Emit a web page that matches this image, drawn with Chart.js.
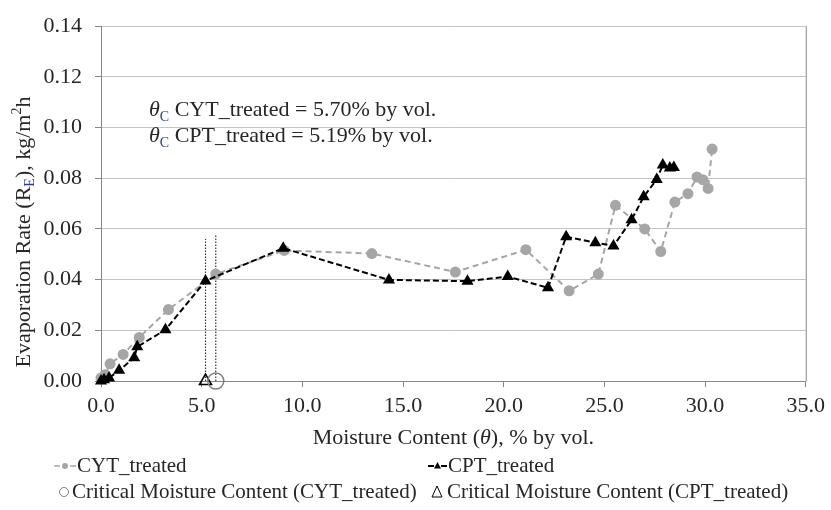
<!DOCTYPE html>
<html>
<head>
<meta charset="utf-8">
<script src="https://cdn.jsdelivr.net/npm/chart.js@4.4.1/dist/chart.umd.min.js"></script>
<style>
  body { margin: 0; background: #fff; }
  #wrap { width: 831px; height: 510px; }
</style>
</head>
<body>
<div id="wrap"><canvas id="rateChart" width="831" height="510"></canvas></div>
<script>
// moisture content (% by vol.) and evaporation rate (kg/m2h)
const cytMoisture = [0.0, 0.2, 0.45, 1.1, 1.9, 3.35, 5.7, 9.1, 13.45, 17.6, 21.1, 23.25, 24.7, 25.55, 27.0, 27.8, 28.5, 29.15, 29.6, 29.9, 30.15, 30.35];
const cytRate = [0.0012, 0.0025, 0.0068, 0.0105, 0.0172, 0.0282, 0.0422, 0.0515, 0.0503, 0.0430, 0.0518, 0.0356, 0.0422, 0.0693, 0.0600, 0.0511, 0.0706, 0.0739, 0.0805, 0.0794, 0.0760, 0.0915];

const cptMoisture = [0.0, 0.15, 0.4, 0.9, 1.65, 1.8, 3.2, 5.19, 9.05, 14.3, 18.2, 20.2, 22.2, 23.1, 24.55, 25.45, 26.35, 26.95, 27.6, 27.9, 28.25, 28.45];
const cptRate = [0.0, 0.0005, 0.0012, 0.0042, 0.0092, 0.0135, 0.0202, 0.0395, 0.0524, 0.0399, 0.0394, 0.0412, 0.0368, 0.0569, 0.0546, 0.0533, 0.0636, 0.0727, 0.0795, 0.0852, 0.0840, 0.0842];

// critical moisture content and the top of the dotted marker lines
const criticalCyt = 5.70;
const criticalCpt = 5.19;
const criticalCytTop = 0.0577;
const criticalCptTop = 0.0560;

const xTicks = [0, 5, 10, 15, 20, 25, 30, 35];
const yTicks = [0, 0.02, 0.04, 0.06, 0.08, 0.10, 0.12, 0.14];

const FONT = "'Liberation Serif', 'Times New Roman', serif";
const TEXT = "#262626";

function pts(xs, ys) {
  return xs.map((x, i) => ({ x: x, y: ys[i] }));
}

// draws a row of text pieces, each with its own style / offset
function drawPieces(ctx, x, y, pieces) {
  let cx = x;
  pieces.forEach(p => {
    ctx.font = (p.italic ? "italic " : "") + p.size + "px " + FONT;
    ctx.fillStyle = p.color || TEXT;
    ctx.fillText(p.t, cx, y + (p.dy || 0));
    cx += ctx.measureText(p.t).width;
  });
  return cx - x;
}
function piecesWidth(ctx, pieces) {
  let w = 0;
  pieces.forEach(p => {
    ctx.font = (p.italic ? "italic " : "") + p.size + "px " + FONT;
    w += ctx.measureText(p.t).width;
  });
  return w;
}

const textPlugin = {
  id: "textPlugin",
  afterDraw(chart) {
    const ctx = chart.ctx;
    const a = chart.chartArea;
    ctx.save();
    ctx.textBaseline = "alphabetic";

    // right border of the plot
    ctx.strokeStyle = "#868686";
    ctx.lineWidth = 1;
    ctx.beginPath();
    ctx.moveTo(a.right + 0.5, a.top);
    ctx.lineTo(a.right + 0.5, a.bottom);
    ctx.stroke();

    // x title
    const xt = [
      { t: "Moisture Content (", size: 22 },
      { t: "θ", size: 22, italic: true },
      { t: "), % by vol.", size: 22 }
    ];
    const xw = piecesWidth(ctx, xt);
    drawPieces(ctx, (a.left + a.right) / 2 - xw / 2, 444, xt);

    // y title (rotated), sits a bit below the middle of the axis
    const yt = [
      { t: "Evaporation Rate (R", size: 22 },
      { t: "E", size: 14, dy: 4, color: "#2a3f8c" },
      { t: "), kg/m", size: 22 },
      { t: "2", size: 14, dy: -9 },
      { t: "h", size: 22 }
    ];
    const yw = piecesWidth(ctx, yt);
    ctx.save();
    ctx.translate(30, 232);
    ctx.rotate(-Math.PI / 2);
    drawPieces(ctx, -yw / 2, 0, yt);
    ctx.restore();

    // annotation
    drawPieces(ctx, 149, 116, [
      { t: "θ", size: 22, italic: true },
      { t: "C", size: 14, dy: 5, color: "#2a3f8c" },
      { t: " CYT_treated = 5.70% by vol.", size: 22 }
    ]);
    drawPieces(ctx, 149, 142, [
      { t: "θ", size: 22, italic: true },
      { t: "C", size: 14, dy: 5, color: "#2a3f8c" },
      { t: " CPT_treated = 5.19% by vol.", size: 22 }
    ]);

    // legend row 1
    const r1 = 472;
    ctx.lineWidth = 1.5;
    ctx.strokeStyle = "#a6a6a6";
    ctx.setLineDash([]);
    ctx.beginPath();
    ctx.moveTo(54, r1 - 6); ctx.lineTo(60, r1 - 6);
    ctx.moveTo(70, r1 - 6); ctx.lineTo(76, r1 - 6);
    ctx.stroke();
    ctx.fillStyle = "#a6a6a6";
    ctx.beginPath(); ctx.arc(65, r1 - 6, 3, 0, Math.PI * 2); ctx.fill();
    drawPieces(ctx, 77, r1, [{ t: "CYT_treated", size: 21 }]);

    ctx.strokeStyle = "#000";
    ctx.lineWidth = 2;
    ctx.beginPath();
    ctx.moveTo(428, r1 - 6); ctx.lineTo(434, r1 - 6);
    ctx.moveTo(441, r1 - 6); ctx.lineTo(447, r1 - 6);
    ctx.stroke();
    ctx.fillStyle = "#000";
    ctx.beginPath();
    ctx.moveTo(437.5, r1 - 10); ctx.lineTo(441, r1 - 3.5); ctx.lineTo(434, r1 - 3.5);
    ctx.closePath(); ctx.fill();
    drawPieces(ctx, 448, r1, [{ t: "CPT_treated", size: 21 }]);

    // legend row 2
    const r2 = 498;
    ctx.lineWidth = 1;
    ctx.strokeStyle = "#7f7f7f";
    ctx.beginPath(); ctx.arc(64, r2 - 6, 4.5, 0, Math.PI * 2); ctx.stroke();
    drawPieces(ctx, 72, r2, [{ t: "Critical Moisture Content (CYT_treated)", size: 21 }]);
    ctx.strokeStyle = "#000";
    ctx.beginPath();
    ctx.moveTo(437, r2 - 12); ctx.lineTo(442, r2 - 1); ctx.lineTo(432, r2 - 1);
    ctx.closePath(); ctx.stroke();
    drawPieces(ctx, 447, r2, [{ t: "Critical Moisture Content (CPT_treated)", size: 21 }]);

    ctx.restore();
  }
};

new Chart(document.getElementById("rateChart").getContext("2d"), {
  type: "scatter",
  data: {
    datasets: [
      {
        label: "Critical Moisture Content (CYT_treated)",
        data: [{ x: criticalCyt, y: 0 }],
        pointStyle: "circle",
        pointRadius: 8,
        pointBackgroundColor: "rgba(255,255,255,0)",
        pointBorderColor: "#7f7f7f",
        pointBorderWidth: 1.5,
        clip: false,
        order: 0
      },
      {
        label: "Critical Moisture Content (CPT_treated)",
        data: [{ x: criticalCpt, y: 0 }],
        pointStyle: "triangle",
        pointRadius: 7,
        pointBackgroundColor: "rgba(255,255,255,0)",
        pointBorderColor: "#000",
        pointBorderWidth: 1.5,
        clip: false,
        order: 1
      },
      {
        label: "CPT_treated",
        data: pts(cptMoisture, cptRate),
        showLine: true,
        borderColor: "#000",
        borderWidth: 2,
        borderDash: [6, 3],
        pointStyle: "triangle",
        pointRadius: 5,
        pointBackgroundColor: "#000",
        pointBorderColor: "#000",
        clip: false,
        order: 2
      },
      {
        label: "CYT_treated",
        data: pts(cytMoisture, cytRate),
        showLine: true,
        borderColor: "#a6a6a6",
        borderWidth: 2,
        borderDash: [6, 4],
        pointStyle: "circle",
        pointRadius: 4.5,
        pointBackgroundColor: "#a6a6a6",
        pointBorderColor: "#a6a6a6",
        clip: false,
        order: 3
      },
      {
        label: "cyt line",
        data: [{ x: criticalCyt, y: 0 }, { x: criticalCyt, y: criticalCytTop }],
        showLine: true,
        borderColor: "#333",
        borderWidth: 1.2,
        borderDash: [1.5, 1.5],
        pointRadius: 0,
        order: 4
      },
      {
        label: "cpt line",
        data: [{ x: criticalCpt, y: 0 }, { x: criticalCpt, y: criticalCptTop }],
        showLine: true,
        borderColor: "#333",
        borderWidth: 1.2,
        borderDash: [1.5, 1.5],
        pointRadius: 0,
        order: 5
      }
    ]
  },
  options: {
    responsive: false,
    animation: false,
    devicePixelRatio: 1,
    layout: { padding: { top: 19, right: 22, left: 0, bottom: 0 } },
    plugins: {
      legend: { display: false },
      tooltip: { enabled: false }
    },
    scales: {
      x: {
        type: "linear",
        min: xTicks[0],
        max: xTicks[xTicks.length - 1],
        afterBuildTicks: s => { s.ticks = xTicks.map(v => ({ value: v })); },
        afterFit: s => { s.height = 129; },
        ticks: {
          color: TEXT,
          font: { family: FONT, size: 22 },
          padding: 6,
          maxRotation: 0,
          callback: v => v.toFixed(1)
        },
        grid: {
          drawOnChartArea: false,
          drawTicks: true,
          tickLength: 6,
          tickColor: "#868686"
        },
        border: { color: "#868686", width: 1 }
      },
      y: {
        type: "linear",
        min: yTicks[0],
        max: yTicks[yTicks.length - 1],
        afterBuildTicks: s => { s.ticks = yTicks.map(v => ({ value: v })); },
        afterFit: s => { s.width = 101; },
        ticks: {
          color: TEXT,
          font: { family: FONT, size: 22 },
          padding: 13,
          callback: v => v.toFixed(2)
        },
        grid: {
          color: "#c4c4c4",
          lineWidth: 1,
          drawTicks: true,
          tickLength: 6,
          tickColor: "#868686"
        },
        border: { color: "#868686", width: 1 }
      }
    }
  },
  plugins: [textPlugin]
});
</script>
</body>
</html>
